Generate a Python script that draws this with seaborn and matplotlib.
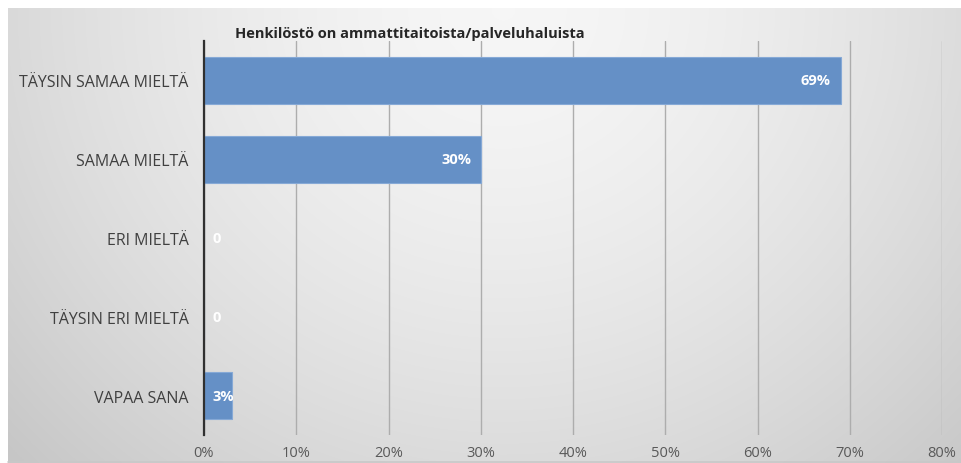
import numpy as np
import pandas as pd
import matplotlib
matplotlib.use("Agg")
import matplotlib.pyplot as plt
import seaborn as sns

categories = ["TÄYSIN SAMAA MIELTÄ", "SAMAA MIELTÄ", "ERI MIELTÄ", "TÄYSIN ERI MIELTÄ", "VAPAA SANA"]
values = [0.69, 0.30, 0.0, 0.0, 0.03]
value_labels = ["69%", "30%", "0", "0", "3%"]
xticks = [0, 0.1, 0.2, 0.3, 0.4, 0.5, 0.6, 0.7, 0.8]
xtick_labels = ["0%", "10%", "20%", "30%", "40%", "50%", "60%", "70%", "80%"]
title = "Henkilöstö on ammattitaitoista/palveluhaluista"

sns.set_theme(style="white")
plt.rcParams['font.family'] = ['Open Sans', 'DejaVu Sans']

W, H = 961, 464
fig = plt.figure(figsize=(W / 100, H / 100), dpi=100, facecolor="white")

# gradient background panel
bx0, by0 = 8 / W, 0
bw, bh = 1 - bx0, (H - 9) / H
bg = fig.add_axes([bx0, by0, bw, bh], zorder=0)
xs = np.linspace(0, 1, 400)
ys = np.linspace(0, 1, 200)
X, Y = np.meshgrid(xs, ys)
r = np.sqrt(((X - 0.52) / 0.62) ** 2 + ((Y - 0.0) / 1.25) ** 2)
v = np.clip(0.965 - 0.15 * r ** 1.6, 0.78, 0.97)
bg.imshow(np.dstack([v, v, v]), aspect="auto", extent=[0, 1, 1, 0], interpolation="bilinear")
bg.set_axis_off()
bg.plot([0, 1], [0.002, 0.002], color="#c8c8c8", lw=1.2, transform=bg.transAxes, clip_on=False)

ax = fig.add_axes([204 / W, 1 - 436 / H, (942 - 204) / W, (436 - 42) / H], zorder=1)
ax.patch.set_alpha(0)

df = pd.DataFrame({"cat": categories, "val": values})
sns.barplot(data=df, x="val", y="cat", orient="h", color="#6590C6", saturation=1,
            width=0.6, edgecolor="#86a9d6", linewidth=0.8, ax=ax, zorder=3)

ax.set_xlim(0, 0.8)
ax.set_ylim(4.5, -0.5)
ax.set_xticks(xticks)
ax.set_xticklabels(xtick_labels, fontsize=10.5, color="#595959")
ax.set_xlabel("")
ax.set_ylabel("")
ax.tick_params(axis="x", length=0, pad=7)
ax.tick_params(axis="y", length=0, pad=11, labelsize=11.5, labelcolor="#404040")
for lbl in ax.get_yticklabels():
    lbl.set_color("#404040")

ax.grid(axis="x", color="#adadad", linewidth=1.0, zorder=0)
ax.grid(axis="y", visible=False)
for s in ["top", "right", "bottom"]:
    ax.spines[s].set_visible(False)
ax.spines["left"].set_color("#303030")
ax.spines["left"].set_linewidth(1.6)
ax.spines["left"].set_zorder(5)

for i, (val, lab) in enumerate(zip(values, value_labels)):
    if val >= 0.1:
        ax.annotate(lab, xy=(val, i), xytext=(-7, 0), textcoords="offset points",
                    ha="right", va="center", color="white", fontsize=10.5, fontweight="bold", zorder=6)
    else:
        ax.annotate(lab, xy=(0, i), xytext=(6, 0), textcoords="offset points",
                    ha="left", va="center", color="white", fontsize=10.5, fontweight="bold", zorder=6)

fig.text(235 / W, 1 - 34 / H, title, ha="left", va="center", fontsize=10.5, fontweight="bold", color="#262626")

fig.savefig("out.png", dpi=100, facecolor="white")
